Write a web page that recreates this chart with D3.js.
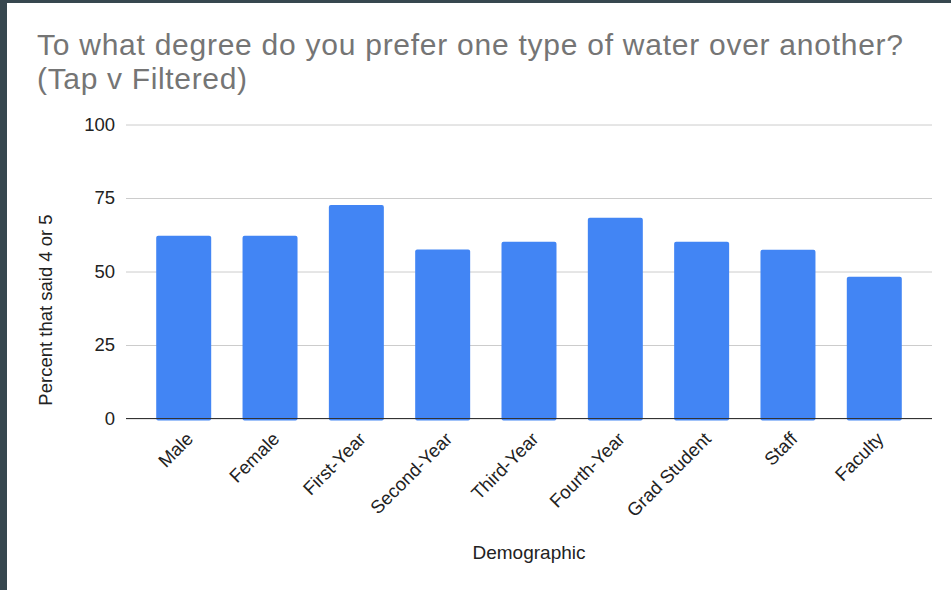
<!DOCTYPE html>
<html>
<head>
<meta charset="utf-8">
<script src="https://cdn.jsdelivr.net/npm/d3@7"></script>
<style>
  html, body { margin: 0; padding: 0; background: #37474f; }
  #chart { position: absolute; left: 7px; top: 3px; width: 944px; height: 587px; background: #fff; }
  text { font-family: "Liberation Sans", Arial, sans-serif; }
</style>
</head>
<body>
<div id="chart"></div>
<script>
// Datos del gráfico
const categorias = ["Male", "Female", "First-Year", "Second-Year", "Third-Year", "Fourth-Year", "Grad Student", "Staff", "Faculty"];
const valores = [62.2, 62.2, 72.6, 57.5, 60.1, 68.3, 60.1, 57.4, 48.2];
const ticksY = [0, 25, 50, 75, 100];

const titulo1 = "To what degree do you prefer one type of water over another?";
const titulo2 = "(Tap v Filtered)";
const tituloX = "Demographic";
const tituloY = "Percent that said 4 or 5";

// Lienzo (coordenadas de la página, el div está desplazado 7,3)
const svg = d3.select("#chart")
    .append("svg")
    .attr("width", 944)
    .attr("height", 587)
    .append("g")
    .attr("transform", "translate(-7,-3)");

// Escalas
const x = d3.scaleBand()
    .domain(categorias)
    .range([126, 932])
    .paddingInner(0.363)
    .paddingOuter(0.35);

const y = d3.scaleLinear()
    .domain([0, 100])
    .range([418.5, 124.5]);

// Líneas de cuadrícula y etiquetas del eje Y
const ejeY = svg.append("g")
    .attr("transform", "translate(126,0)")
    .call(d3.axisLeft(y).tickValues(ticksY).tickSize(-806).tickPadding(11));
ejeY.select(".domain").remove();
ejeY.selectAll(".tick line").attr("stroke", "#cccccc");
ejeY.selectAll(".tick text")
    .attr("fill", "#222")
    .style("font-size", "18.5px")
    .style("font-family", "'Liberation Sans', Arial, sans-serif");

// Barras
svg.append("g")
    .selectAll("rect")
    .data(valores)
    .join("rect")
    .attr("x", (d, i) => x(categorias[i]))
    .attr("y", (d) => y(d))
    .attr("width", x.bandwidth())
    .attr("height", (d) => y(0) - y(d) + 2)
    .attr("rx", 2)
    .attr("fill", "#4285f4");

// Línea base
svg.append("line")
    .attr("x1", 126)
    .attr("x2", 932)
    .attr("y1", y(0))
    .attr("y2", y(0))
    .attr("stroke", "#333")
    .attr("stroke-width", 1.2);

// Etiquetas del eje X (rotadas)
svg.append("g")
    .selectAll("text")
    .data(categorias)
    .join("text")
    .attr("transform", (d) => `translate(${x(d) + x.bandwidth() / 2 + 6},${y(0) + 17}) rotate(-45)`)
    .attr("text-anchor", "end")
    .attr("dy", "0.35em")
    .attr("fill", "#222")
    .style("font-size", "18.5px")
    .text((d) => d);

// Títulos de ejes
svg.append("text")
    .attr("x", 529)
    .attr("y", 559)
    .attr("text-anchor", "middle")
    .attr("fill", "#222")
    .style("font-size", "19px")
    .text(tituloX);

svg.append("text")
    .attr("transform", "translate(52,310) rotate(-90)")
    .attr("text-anchor", "middle")
    .attr("fill", "#222")
    .style("font-size", "18.5px")
    .text(tituloY);

// Título del gráfico (dos líneas)
svg.append("text")
    .attr("x", 37)
    .attr("y", 55)
    .attr("fill", "#757575")
    .attr("textLength", 866)
    .attr("lengthAdjust", "spacing")
    .style("font-size", "30px")
    .text(titulo1);

svg.append("text")
    .attr("x", 37)
    .attr("y", 89)
    .attr("fill", "#757575")
    .attr("textLength", 210)
    .attr("lengthAdjust", "spacing")
    .style("font-size", "30px")
    .text(titulo2);
</script>
</body>
</html>
